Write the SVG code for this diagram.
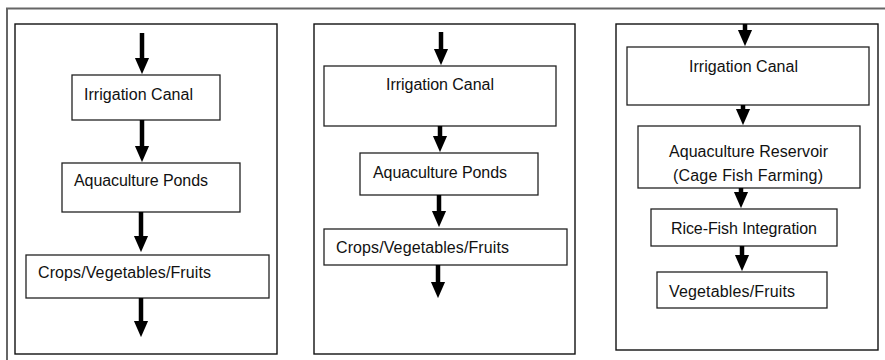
<svg xmlns="http://www.w3.org/2000/svg" width="885" height="360" viewBox="0 0 885 360">
<style>
.frame{fill:none;stroke:#666;stroke-width:2}
.panel{fill:#fff;stroke:#111;stroke-width:1.4}
.box{fill:#fff;stroke:#222;stroke-width:1.3}
.t{font-family:"Liberation Sans",Arial,sans-serif;font-size:16px;fill:#111}
.arr{stroke:#000;stroke-width:4.5;fill:none;marker-end:url(#ah)}
</style>
<defs>
<marker id="ah" markerUnits="userSpaceOnUse" markerWidth="16" markerHeight="17" viewBox="0 0 17 16" refX="2" refY="8" orient="auto">
<path d="M0,0.5 L17,8 L0,15.5 z" fill="#000"/>
</marker>
</defs>
<rect width="885" height="360" fill="#fff"/>
<path class="frame" d="M7,361 V8.5 H886"/>
<g id="panel1">
<rect class="panel" x="15" y="24" width="262" height="330"/>
</g>
<g id="panel2">
<rect class="panel" x="314" y="24" width="261" height="330"/>
</g>
<g id="panel3">
<rect class="panel" x="616" y="24" width="262" height="326"/>
</g>
<g id="p1-irrigation">
<rect class="box" x="72" y="75" width="148" height="45"/>
<text class="t" x="84" y="100" textLength="109">Irrigation Canal</text>
</g>
<g id="p1-ponds">
<rect class="box" x="62" y="163" width="178" height="49"/>
<text class="t" x="74" y="186" textLength="134">Aquaculture Ponds</text>
</g>
<g id="p1-crops">
<rect class="box" x="26" y="255" width="243" height="43"/>
<text class="t" x="38" y="278" textLength="173">Crops/Vegetables/Fruits</text>
</g>
<g id="p2-irrigation">
<rect class="box" x="324" y="66" width="232" height="60"/>
<text class="t" x="386" y="90" textLength="108">Irrigation Canal</text>
</g>
<g id="p2-ponds">
<rect class="box" x="360" y="153" width="178" height="42"/>
<text class="t" x="373" y="178" textLength="134">Aquaculture Ponds</text>
</g>
<g id="p2-crops">
<rect class="box" x="324" y="229" width="243" height="36"/>
<text class="t" x="336" y="253" textLength="173">Crops/Vegetables/Fruits</text>
</g>
<g id="p3-irrigation">
<rect class="box" x="627" y="47" width="242" height="58"/>
<text class="t" x="689" y="72" textLength="109">Irrigation Canal</text>
</g>
<g id="p3-reservoir">
<rect class="box" x="638" y="126" width="222" height="62"/>
<text class="t" x="669" y="157" textLength="159">Aquaculture Reservoir</text>
<text class="t" x="673" y="181" textLength="150">(Cage Fish Farming)</text>
</g>
<g id="p3-ricefish">
<rect class="box" x="651" y="209" width="186" height="37"/>
<text class="t" x="671" y="234" textLength="146">Rice-Fish Integration</text>
</g>
<g id="p3-vegfruits">
<rect class="box" x="657" y="272" width="170" height="36"/>
<text class="t" x="669" y="297" textLength="126">Vegetables/Fruits</text>
</g>
<g id="connectors">
<line class="arr" x1="142" y1="33" x2="142" y2="60"/>
<line class="arr" x1="142" y1="120" x2="142" y2="148"/>
<line class="arr" x1="141" y1="212" x2="141" y2="238"/>
<line class="arr" x1="141" y1="298" x2="141" y2="323"/>
<line class="arr" x1="441" y1="32" x2="441" y2="51"/>
<line class="arr" x1="440" y1="126" x2="440" y2="138"/>
<line class="arr" x1="439" y1="195" x2="439" y2="213"/>
<line class="arr" x1="438" y1="265" x2="438" y2="284"/>
<line class="arr" x1="745" y1="24" x2="745" y2="32"/>
<line class="arr" x1="743" y1="105" x2="743" y2="111"/>
<line class="arr" x1="741" y1="188" x2="741" y2="194"/>
<line class="arr" x1="742" y1="246" x2="742" y2="257"/>
</g>
</svg>
